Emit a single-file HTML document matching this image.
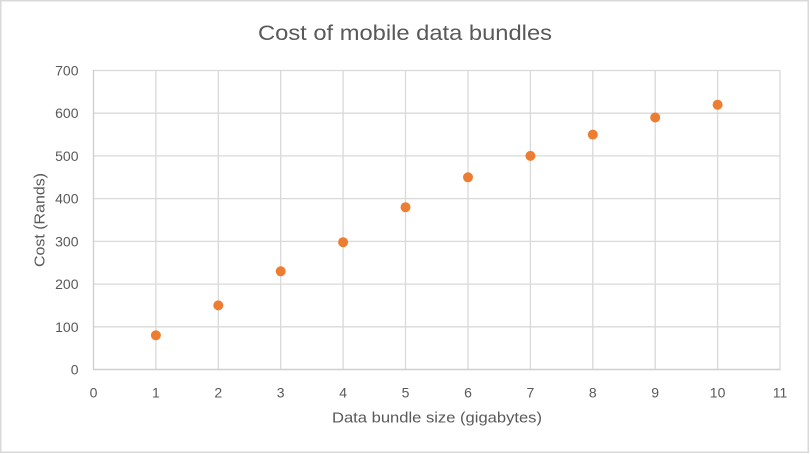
<!DOCTYPE html>
<html><head><meta charset="utf-8"><style>
html,body{margin:0;padding:0;background:#fff;}
svg{display:block;}
text{font-family:"Liberation Sans",Arial,sans-serif;fill:#595959;}
</style></head><body>
<svg width="810" height="454" viewBox="0 0 810 454" xmlns="http://www.w3.org/2000/svg">
<rect x="0" y="0" width="810" height="454" fill="#fff"/>
<rect x="0.75" y="0.75" width="807.5" height="451.5" fill="none" stroke="#d9d9d9" stroke-width="1.5"/>
<g stroke="#d9d9d9" stroke-width="1.3" fill="none">
<line x1="93.5" y1="326.8" x2="780" y2="326.8"/>
<line x1="93.5" y1="284.1" x2="780" y2="284.1"/>
<line x1="93.5" y1="241.4" x2="780" y2="241.4"/>
<line x1="93.5" y1="198.6" x2="780" y2="198.6"/>
<line x1="93.5" y1="155.9" x2="780" y2="155.9"/>
<line x1="93.5" y1="113.2" x2="780" y2="113.2"/>
<line x1="93.5" y1="70.5" x2="780" y2="70.5"/>
<line x1="155.9" y1="70.5" x2="155.9" y2="369.5"/>
<line x1="218.3" y1="70.5" x2="218.3" y2="369.5"/>
<line x1="280.7" y1="70.5" x2="280.7" y2="369.5"/>
<line x1="343.1" y1="70.5" x2="343.1" y2="369.5"/>
<line x1="405.5" y1="70.5" x2="405.5" y2="369.5"/>
<line x1="468.0" y1="70.5" x2="468.0" y2="369.5"/>
<line x1="530.4" y1="70.5" x2="530.4" y2="369.5"/>
<line x1="592.8" y1="70.5" x2="592.8" y2="369.5"/>
<line x1="655.2" y1="70.5" x2="655.2" y2="369.5"/>
<line x1="717.6" y1="70.5" x2="717.6" y2="369.5"/>
<line x1="780" y1="70.5" x2="780" y2="369.5"/>
</g>
<g stroke="#cfcfcf" stroke-width="1.4">
<line x1="93.5" y1="70" x2="93.5" y2="370"/>
<line x1="93" y1="369.5" x2="780.5" y2="369.5"/>
</g>
<text x="405" y="40" font-size="21" text-anchor="middle" textLength="294" lengthAdjust="spacingAndGlyphs">Cost of mobile data bundles</text>
<g font-size="14" text-anchor="end">
<text x="78.5" y="374.5">0</text>
<text x="78.5" y="331.8">100</text>
<text x="78.5" y="289.1">200</text>
<text x="78.5" y="246.4">300</text>
<text x="78.5" y="203.6">400</text>
<text x="78.5" y="160.9">500</text>
<text x="78.5" y="118.2">600</text>
<text x="78.5" y="75.5">700</text>
</g>
<g font-size="14" text-anchor="middle">
<text x="93.5" y="397.5">0</text>
<text x="155.9" y="397.5">1</text>
<text x="218.3" y="397.5">2</text>
<text x="280.7" y="397.5">3</text>
<text x="343.1" y="397.5">4</text>
<text x="405.5" y="397.5">5</text>
<text x="468.0" y="397.5">6</text>
<text x="530.4" y="397.5">7</text>
<text x="592.8" y="397.5">8</text>
<text x="655.2" y="397.5">9</text>
<text x="717.6" y="397.5">10</text>
<text x="780" y="397.5">11</text>
</g>
<text x="437" y="422.5" font-size="14.5" text-anchor="middle" textLength="210" lengthAdjust="spacingAndGlyphs">Data bundle size (gigabytes)</text>
<text transform="translate(44.5,220) rotate(-90)" x="0" y="0" font-size="14.5" text-anchor="middle" textLength="94" lengthAdjust="spacingAndGlyphs">Cost (Rands)</text>
<g fill="#ed7d31">
<circle cx="155.9" cy="335.3" r="5"/>
<circle cx="218.3" cy="305.4" r="5"/>
<circle cx="280.7" cy="271.3" r="5"/>
<circle cx="343.1" cy="242.2" r="5"/>
<circle cx="405.5" cy="207.2" r="5"/>
<circle cx="468.0" cy="177.3" r="5"/>
<circle cx="530.4" cy="155.9" r="5"/>
<circle cx="592.8" cy="134.6" r="5"/>
<circle cx="655.2" cy="117.5" r="5"/>
<circle cx="717.6" cy="104.7" r="5"/>
</g>
</svg>
</body></html>
